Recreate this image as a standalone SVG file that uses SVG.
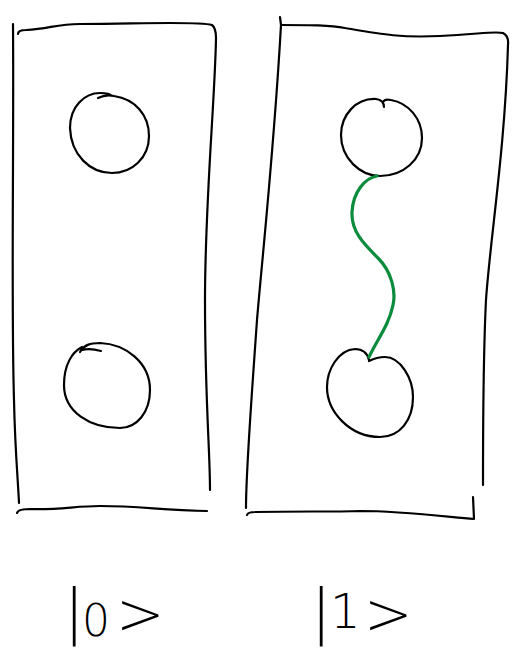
<svg xmlns="http://www.w3.org/2000/svg" width="517" height="648" viewBox="0 0 517 648">
<style>
.s{fill:none;stroke:#000;stroke-width:2.2;stroke-linecap:round;stroke-linejoin:round}
.g{fill:none;stroke:#0a8c3c;stroke-width:3.2;stroke-linecap:round}
.t{font-family:"DejaVu Sans","Liberation Sans",sans-serif;fill:#000;font-weight:200}
</style>
<rect width="517" height="648" fill="#fff"/>
<g id="box0">
<path class="s" d="M13,24 C14,150 11,300 14,400 C15,450 18,480 19,503"/>
<path class="s" d="M18,34 Q18,30 26,30 C50,29 55,24 80,24 C120,24 140,23 170,23 C190,23 205,23 212,25 Q216,28 216,38 C215,100 205,200 205,300 C205,400 210,450 210,490"/>
<path class="s" d="M17,513 Q18,509 30,509 C60,510 75,506 100,506 C140,506 160,510 207,511"/>
</g>
<g id="box1">
<path class="s" d="M280,17 L281,25 C274,150 262,260 257,320 C250,420 246,470 246,508"/>
<path class="s" d="M281,25 C310,25 330,25 345,28 C380,34 400,38 440,36 C480,34 495,31 503,33 Q509,36 508,45 C505,150 490,240 486,300 C483,360 483,440 483,485"/>
<path class="s" d="M247,515 Q248,512 255,512 C300,511 330,512 360,511 C400,511 440,516 474,519 L473,497"/>
</g>
<g id="q0a">
<path class="s" d="M98,98 C104,95 110,95 114,96 C135,99 149,115 149,136 C149,158 132,173 112,173 C90,173 71,155 70,128 C70,106 85,93 100,93 C106,93 110,94 112,96"/>
</g>
<g id="q0b">
<path class="s" d="M80,352 C84,345 90,343 100,343 C125,344 150,362 150,390 C150,412 137,428 120,428 C90,428 64,412 64,385 C64,365 72,352 82,347 M82,350 Q90,348 101,351"/>
</g>
<g id="q1a">
<path class="s" d="M384,107 C384,103 382,100 376,99 C356,98 341,115 341,135 C341,158 360,176 380,176 C403,176 422,160 422,138 C422,118 408,103 391,100 C387,99 384,100 383,102"/>
</g>
<g id="q1b">
<path class="s" d="M369,360 C367,352 362,349 355,349 C338,350 327,370 327,387 C327,412 350,437 380,437 C400,437 413,420 413,397 C413,378 400,357 385,357 C378,357 373,359 369,361"/>
</g>
<g id="connectors">
<path class="g" d="M377,176 C365,178 353,192 352,212 C351,232 365,245 378,258 C392,272 396,292 393,305 C389,325 378,338 369,357"/>
</g>
<g id="label0">
<text class="t"><tspan x="64" y="632" font-size="60">|</tspan><tspan x="82" y="636" font-size="44">0</tspan><tspan x="116" y="634" font-size="58">&gt;</tspan></text>
</g>
<g id="label1">
<text class="t"><tspan x="311" y="632" font-size="60">|</tspan><tspan x="330" y="628" font-size="48">1</tspan><tspan x="364" y="634" font-size="58">&gt;</tspan></text>
</g>
</svg>
